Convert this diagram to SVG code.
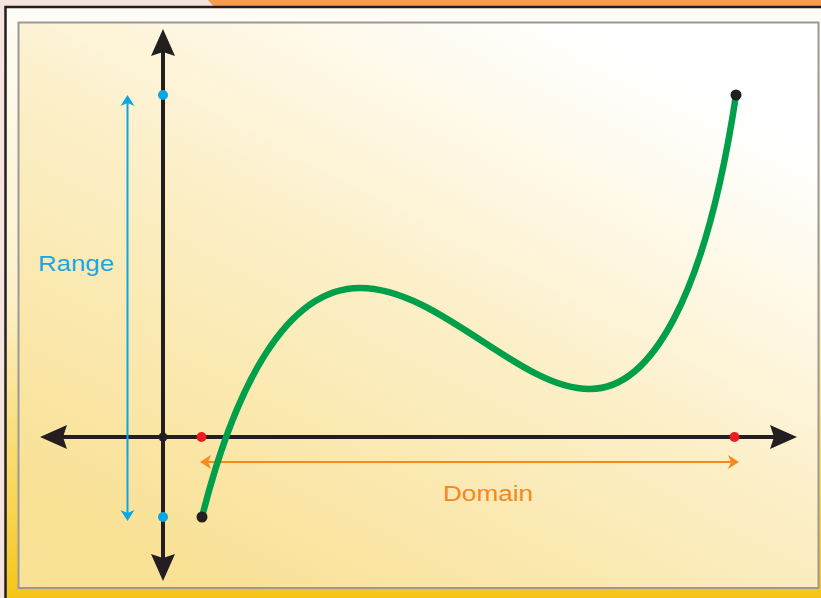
<svg xmlns="http://www.w3.org/2000/svg" width="821" height="598" viewBox="0 0 821 598">
<defs>
<linearGradient id="outerGrad" x1="0" y1="0" x2="0" y2="1">
<stop offset="0" stop-color="#fffdf7"/>
<stop offset="0.5" stop-color="#fcf0c8"/>
<stop offset="0.85" stop-color="#f8d452"/>
<stop offset="1" stop-color="#f5c518"/>
</linearGradient>
<linearGradient id="innerGrad" gradientUnits="userSpaceOnUse" x1="250" y1="600" x2="560" y2="10">
<stop offset="0" stop-color="#f9e196"/>
<stop offset="0.5" stop-color="#fcefc6"/>
<stop offset="0.85" stop-color="#fffbf0"/>
<stop offset="1" stop-color="#ffffff"/>
</linearGradient>
<marker id="arrBlack" markerUnits="userSpaceOnUse" viewBox="-5 -13 30 26" refX="0" refY="0" markerWidth="30" markerHeight="26" orient="auto-start-reverse" overflow="visible">
<path d="M-4,-12 L23,0 L-4,12 L0,0 Z" fill="#231f20"/>
</marker>
<marker id="arrBlue" markerUnits="userSpaceOnUse" viewBox="-4 -8 13 16" refX="0" refY="0" markerWidth="13" markerHeight="16" orient="auto-start-reverse" overflow="visible">
<path d="M-3,-7 L8,0 L-3,7 L0,0 Z" fill="#0ba6e6"/>
</marker>
<marker id="arrOrange" markerUnits="userSpaceOnUse" viewBox="-4 -8 13 16" refX="0" refY="0" markerWidth="13" markerHeight="16" orient="auto-start-reverse" overflow="visible">
<path d="M-3,-7 L8,0 L-3,7 L0,0 Z" fill="#f7891f"/>
</marker>
</defs>
<style>
.axis{stroke:#231f20;stroke-width:4;fill:none}
.lbl{font-family:"Liberation Sans",Arial,sans-serif;font-size:22px}
</style>
<!-- background / frame -->
<rect x="0" y="0" width="821" height="598" fill="#f6e4df"/>
<polygon points="208,0 821,0 821,7 214,7" fill="#f79b4e"/>
<rect x="6" y="7" width="815" height="591" fill="url(#outerGrad)"/>
<path d="M5.5,598 V7 H821" fill="none" stroke="#231f20" stroke-width="2.5"/>
<rect x="18.5" y="22.5" width="800" height="565.5" fill="url(#innerGrad)" stroke="#999999" stroke-width="2"/>

<g id="connectors">
<line id="y-axis" class="axis" x1="163" y1="558" x2="163" y2="52" marker-start="url(#arrBlack)" marker-end="url(#arrBlack)"/>
<line id="x-axis" class="axis" x1="63" y1="437" x2="774" y2="437" marker-start="url(#arrBlack)" marker-end="url(#arrBlack)"/>
<line id="range-arrow" x1="127.5" y1="513" x2="127.5" y2="103" stroke="#0ba6e6" stroke-width="2" marker-start="url(#arrBlue)" marker-end="url(#arrBlue)"/>
<line id="domain-arrow" x1="208" y1="462" x2="731" y2="462" stroke="#f7891f" stroke-width="2" marker-start="url(#arrOrange)" marker-end="url(#arrOrange)"/>
</g>

<g id="curve">
<path d="M202,517 C234,390 285,288 360,288 C440,288 520,390 590,389 C650,389 705,300 736,95" fill="none" stroke="#00a04b" stroke-width="6.5" stroke-linecap="round"/>
</g>

<g id="points">
<circle cx="163" cy="437" r="4.5" fill="#231f20"/>
<circle cx="201.5" cy="437" r="5" fill="#ed1c24"/>
<circle cx="734.5" cy="437" r="5" fill="#ed1c24"/>
<circle cx="163" cy="95" r="5" fill="#0ba6e6"/>
<circle cx="163" cy="517" r="5" fill="#0ba6e6"/>
<circle cx="202" cy="517" r="5.5" fill="#231f20"/>
<circle cx="736" cy="95" r="5.5" fill="#231f20"/>
</g>

<g id="label-range">
<text class="lbl" x="38" y="271" fill="#1aa6e2" textLength="76" lengthAdjust="spacingAndGlyphs">Range</text>
</g>
<g id="label-domain">
<text class="lbl" x="443" y="501" fill="#f4871f" textLength="90" lengthAdjust="spacingAndGlyphs">Domain</text>
</g>
</svg>
